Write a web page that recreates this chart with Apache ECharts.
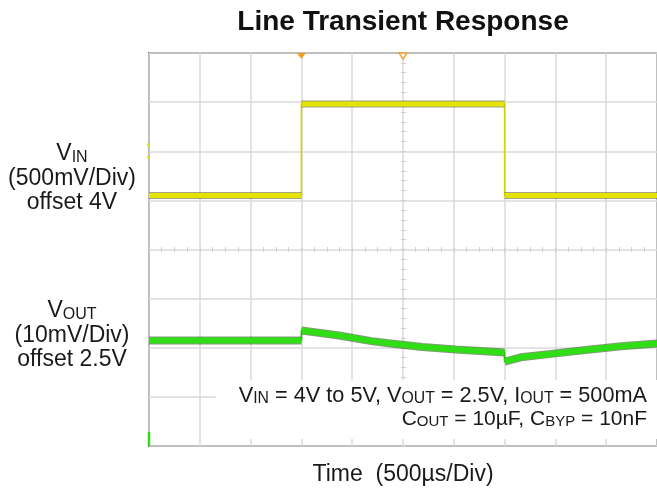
<!DOCTYPE html>
<html>
<head>
<meta charset="utf-8">
<script src="https://cdn.jsdelivr.net/npm/echarts@6/dist/echarts.min.js"></script>
<style>
html,body{margin:0;padding:0;background:#fff;}
#c{width:657px;height:491px;}
</style>
</head>
<body>
<div id="c"></div>
<script>
// ---- data (time in ms, 500 µs/div) ----
var vinTime = [0, 1.5, 1.5, 3.5, 3.5, 5.0];
var vinVolts = [4.0, 4.0, 4.93, 4.93, 4.0, 4.0];

var voutTime = [0, 1.5, 1.5, 1.54, 1.87, 2.19, 2.36, 2.69, 3.02, 3.34, 3.5, 3.5, 3.66, 4.0, 4.32, 4.65, 5.0];
var voutDevMv = [0, 0, 2.0, 1.9, 1.0, -0.15, -0.6, -1.35, -1.85, -2.25, -2.45, -4.3, -3.45, -2.65, -1.9, -1.2, -0.65];

var titleText = 'Line Transient Response';
var xAxisTitle = 'Time  (500µs/Div)';

function pairs(xs, ys){ var o=[]; for (var i=0;i<xs.length;i++) o.push([xs[i], ys[i]]); return o; }
// thick trace: break the line at vertical (instant) transitions
function levels(xs, ys){
  var o=[];
  for (var i=0;i<xs.length;i++){
    if (i>0 && xs[i]===xs[i-1]) o.push([xs[i], null]);
    o.push([xs[i], ys[i]]);
  }
  return o;
}

var FF = '"Liberation Sans", Arial, sans-serif';
var gridColor = '#dadada';

var chart = echarts.init(document.getElementById('c'), null, {renderer:'canvas'});

function rich(main, sub){
  return {
    m:{fontSize:main, fontFamily:FF, fill:'#1a1a1a'},
    s:{fontSize:sub, fontFamily:FF, fill:'#1a1a1a', verticalAlign:'bottom'}
  };
}

var option = {
  animation:false,
  backgroundColor:'#fff',
  grid:{left:149, right:-2, top:53, bottom:45, show:true, borderColor:'#6f6f6f', borderWidth:2, backgroundColor:'transparent'},
  xAxis:[
    {type:'value', min:0, max:5, interval:0.5,
     axisLine:{show:false}, axisTick:{show:false}, axisLabel:{show:false},
     splitLine:{show:true, lineStyle:{color:gridColor, width:1.5}}},
    {type:'value', min:0, max:5, interval:0.5, position:'bottom', offset:-194,
     axisLine:{show:false}, axisLabel:{show:false}, splitLine:{show:false},
     axisTick:{show:true, inside:true, length:5, lineStyle:{color:'#cfcfcf', width:1}},
     minorTick:{show:true, splitNumber:4, length:5, lineStyle:{color:'#cfcfcf', width:1}}}
  ],
  yAxis:[
    {type:'value', min:0, max:8, interval:1,
     axisLine:{show:false}, axisTick:{show:false}, axisLabel:{show:false},
     splitLine:{show:true, lineStyle:{color:gridColor, width:1.5}}},
    {type:'value', min:1.45, max:5.45, show:false, splitLine:{show:false}},
    {type:'value', min:-21.5, max:58.5, show:false, splitLine:{show:false}},
    {type:'value', min:0, max:8, interval:1, position:'left', offset:-252,
     axisLine:{show:false}, axisLabel:{show:false}, splitLine:{show:false},
     axisTick:{show:true, inside:true, length:5, lineStyle:{color:'#cfcfcf', width:1}},
     minorTick:{show:true, splitNumber:5, length:5, lineStyle:{color:'#cfcfcf', width:1}}}
  ],
  series:[
    // VIN
    {type:'line', xAxisIndex:0, yAxisIndex:1, data:pairs(vinTime, vinVolts), symbol:'none', connectNulls:false,
     lineStyle:{color:'#d4d400', width:1.6}, silent:true, z:3},
    {type:'line', xAxisIndex:0, yAxisIndex:1, data:levels(vinTime, vinVolts), symbol:'none', connectNulls:false,
     lineStyle:{color:'#4a4a10', width:7, opacity:0.5}, silent:true, z:3},
    {type:'line', xAxisIndex:0, yAxisIndex:1, data:levels(vinTime, vinVolts), symbol:'none', connectNulls:false,
     lineStyle:{color:'#e4e400', width:5}, silent:true, z:4},
    // VOUT
    {type:'line', xAxisIndex:0, yAxisIndex:2, data:pairs(voutTime, voutDevMv), symbol:'none', connectNulls:false,
     lineStyle:{color:'#2ccf14', width:1.8}, silent:true, z:3},
    {type:'line', xAxisIndex:0, yAxisIndex:2, data:levels(voutTime, voutDevMv), symbol:'none', connectNulls:false,
     lineStyle:{color:'#184a08', width:8, opacity:0.55}, silent:true, z:3},
    {type:'line', xAxisIndex:0, yAxisIndex:2, data:levels(voutTime, voutDevMv), symbol:'none', connectNulls:false,
     lineStyle:{color:'#30de16', width:6}, silent:true, z:4},
    {type:'scatter', xAxisIndex:0, yAxisIndex:0, data:[], silent:true, z:6,
     markPoint:{silent:true, label:{show:false}, data:[
       {coord:[1.5, 8], symbol:'triangle', symbolSize:[9,6], symbolRotate:180, symbolOffset:[0,3], itemStyle:{color:'#f39c1a'}},
       {coord:[2.5, 8], symbol:'triangle', symbolSize:[8,6], symbolRotate:180, symbolOffset:[0,3], itemStyle:{color:'#fff', borderColor:'#f3a23a', borderWidth:1.5}},
       {coord:[0, 0], symbol:'rect', symbolSize:[2.5,14], symbolOffset:[0,-7], itemStyle:{color:'#2fdc16'}},
       {coord:[0, 6.13], symbol:'rect', symbolSize:[2,3], symbolOffset:[-1,0], itemStyle:{color:'#e8e800'}},
       {coord:[0, 5.88], symbol:'rect', symbolSize:[2,3], symbolOffset:[-1,0], itemStyle:{color:'#e8e800'}}
     ]}}
  ],
  graphic:[
    {type:'text', z:10, style:{text:titleText, x:403, y:22, align:'center', verticalAlign:'middle',
      font:'bold 28px ' + FF, fill:'#111'}},
    {type:'text', z:10, style:{text:xAxisTitle, x:403, y:475, align:'center', verticalAlign:'middle',
      font:'23px ' + FF, fill:'#1a1a1a'}},
    // left labels
    {type:'text', z:10, style:{text:'{m|V}{s|IN}', x:72, y:154, align:'center', verticalAlign:'middle', rich:rich(23,16)}},
    {type:'text', z:10, style:{text:'(500mV/Div)', x:72, y:179, align:'center', verticalAlign:'middle', font:'23px '+FF, fill:'#1a1a1a'}},
    {type:'text', z:10, style:{text:'offset 4V', x:72, y:203, align:'center', verticalAlign:'middle', font:'23px '+FF, fill:'#1a1a1a'}},
    {type:'text', z:10, style:{text:'{m|V}{s|OUT}', x:72, y:311, align:'center', verticalAlign:'middle', rich:rich(23,16)}},
    {type:'text', z:10, style:{text:'(10mV/Div)', x:72, y:336, align:'center', verticalAlign:'middle', font:'23px '+FF, fill:'#1a1a1a'}},
    {type:'text', z:10, style:{text:'offset 2.5V', x:72, y:360, align:'center', verticalAlign:'middle', font:'23px '+FF, fill:'#1a1a1a'}},
    // annotation box
    {type:'rect', z:8, shape:{x:216, y:380, width:445, height:59}, style:{fill:'#fff'}},
    {type:'text', z:10, style:{text:'{m|V}{s|IN}{m| = 4V to 5V, V}{s|OUT}{m| = 2.5V, I}{s|OUT}{m| = 500mA}',
      x:647, y:396, align:'right', verticalAlign:'middle', rich:rich(21.7,15.8)}},
    {type:'text', z:10, style:{text:'{m|C}{s|OUT}{m| = 10µF, C}{s|BYP}{m| = 10nF}',
      x:647, y:419, align:'right', verticalAlign:'middle', rich:rich(21,15)}}
  ]
};
chart.setOption(option);
</script>
</body>
</html>
